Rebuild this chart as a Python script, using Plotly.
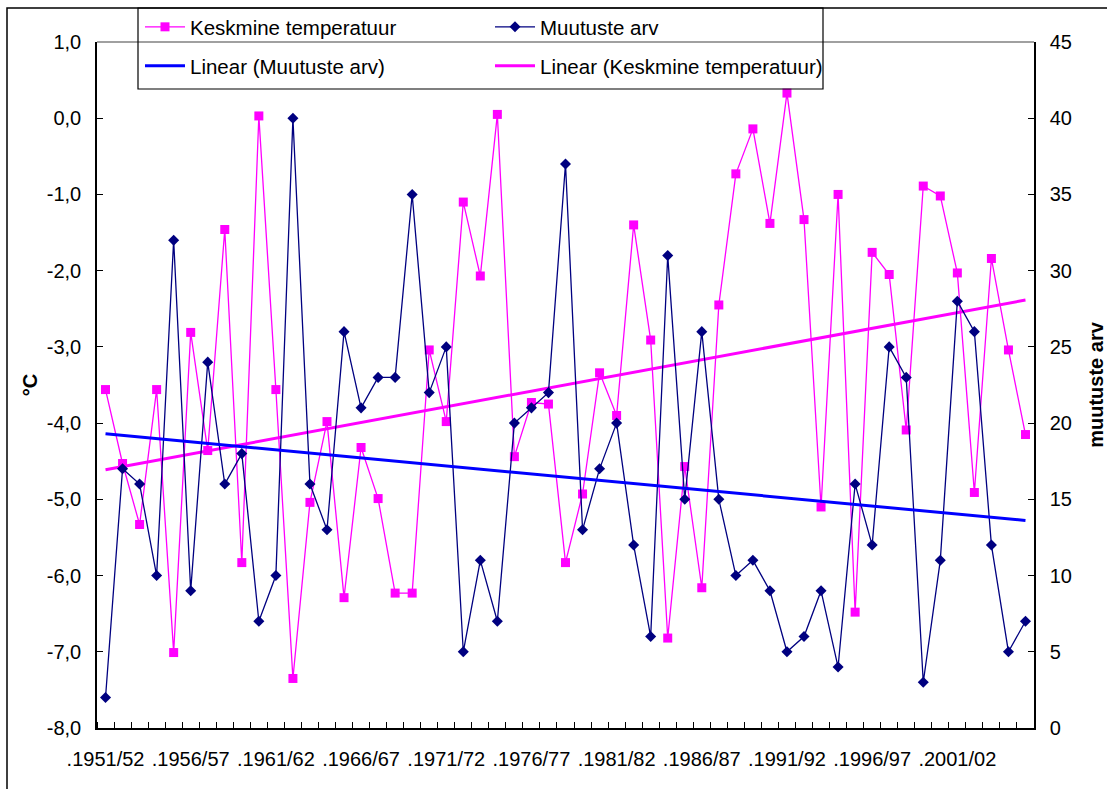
import numpy as np
import plotly.graph_objects as go

seasons = [f".{y}/{str(y + 1)[-2:]}" for y in range(1951, 2006)]
temperature = [-3.56, -4.53, -5.33, -3.56, -7.01, -2.81, -4.36, -1.46, -5.83, 0.03,
               -3.56, -7.35, -5.04, -3.98, -6.29, -4.32, -4.99, -6.23, -6.23, -3.04,
               -3.98, -1.10, -2.07, 0.05, -4.44, -3.73, -3.75, -5.83, -4.93, -3.34,
               -3.90, -1.40, -2.91, -6.82, -4.57, -6.16, -2.45, -0.73, -0.14, -1.38,
               0.33, -1.33, -5.10, -1.00, -6.48, -1.76, -2.05, -4.09, -0.89, -1.02,
               -2.03, -4.91, -1.84, -3.04, -4.15]
changes = [2, 17, 16, 10, 32, 9, 24, 16, 18, 7, 10, 40, 16, 13,
           26, 21, 23, 23, 35, 22, 25, 5, 11, 7, 20, 21, 22, 37,
           13, 17, 20, 12, 6, 31, 15, 26, 15, 10, 11, 9, 5, 6,
           9, 4, 16, 12, 25, 23, 3, 11, 28, 26, 12, 5, 7]
left_ticks = [1, 0, -1, -2, -3, -4, -5, -6, -7, -8]
left_labels = ["1,0", "0,0", "-1,0", "-2,0", "-3,0", "-4,0", "-5,0", "-6,0", "-7,0", "-8,0"]
right_ticks = [0, 5, 10, 15, 20, 25, 30, 35, 40, 45]

x = np.arange(len(seasons))
kt, bt = np.polyfit(x, temperature, 1)
kc, bc = np.polyfit(x, changes, 1)

PINK = "#FF00FF"
NAVY = "#000080"
BLUE = "#0000FF"
FONT = "Liberation Sans, Arial, sans-serif"

W, H = 1107, 789
L, R, T, B = 97, 1034, 42, 728


def px(v):
    return (v - L) / (R - L)


def py(v):
    return (B - v) / (B - T)


fig = go.Figure()
fig.add_trace(go.Scatter(x=x, y=temperature, name="Keskmine temperatuur", mode="lines+markers",
                         line=dict(color=PINK, width=1.3),
                         marker=dict(symbol="square", size=9, color=PINK),
                         legend="legend"))
fig.add_trace(go.Scatter(x=x, y=changes, name="Muutuste arv", mode="lines+markers", yaxis="y2",
                         line=dict(color=NAVY, width=1.3),
                         marker=dict(symbol="diamond", size=8.5, color=NAVY),
                         legend="legend"))
fig.add_trace(go.Scatter(x=[x[0], x[-1]], y=[bc, kc * x[-1] + bc], name="Linear (Muutuste arv)",
                         mode="lines", yaxis="y2", line=dict(color=BLUE, width=3),
                         legend="legend2"))
fig.add_trace(go.Scatter(x=[x[0], x[-1]], y=[bt, kt * x[-1] + bt], name="Linear (Keskmine temperatuur)",
                         mode="lines", line=dict(color=PINK, width=3),
                         legend="legend2"))

legend_common = dict(orientation="h", xanchor="left", yanchor="top", bgcolor="rgba(0,0,0,0)",
                     borderwidth=0, entrywidth=295, entrywidthmode="pixels",
                     font=dict(family=FONT, size=20.5, color="black"), itemwidth=40,
                     traceorder="normal")

fig.update_layout(
    width=W, height=H,
    margin=dict(l=L, r=W - R, t=T, b=H - B, autoexpand=False),
    paper_bgcolor="white", plot_bgcolor="white",
    font=dict(family=FONT, size=20, color="black"),
    showlegend=True,
    legend=dict(x=px(140), y=py(7), **legend_common),
    legend2=dict(x=px(140), y=py(46), **legend_common),
    xaxis=dict(range=[-0.5, len(seasons) - 0.5], tickmode="array", tickvals=list(x[::5]),
               ticktext=seasons[::5], ticks="", showline=True, linecolor="black", linewidth=1.5,
               showgrid=False, zeroline=False, ticklabelstandoff=12,
               tickfont=dict(family=FONT, size=20, color="black"),
               minor=dict(tickmode="array", tickvals=[i - 0.5 for i in range(len(seasons) + 1)],
                          ticks="inside", ticklen=6, tickcolor="black", tickwidth=1, showgrid=False)),
    yaxis=dict(range=[-8, 1], tickmode="array", tickvals=left_ticks, ticktext=left_labels,
               ticks="inside", ticklen=6, tickcolor="black", showline=True, linecolor="black",
               linewidth=1.5, showgrid=False, zeroline=False, ticklabelstandoff=10,
               title=dict(text="<b>°C</b>", font=dict(family=FONT, size=20), standoff=4),
               tickfont=dict(family=FONT, size=20, color="black")),
    yaxis2=dict(range=[0, 45], tickmode="array", tickvals=right_ticks, overlaying="y", side="right",
                ticks="inside", ticklen=6, tickcolor="black", showline=True, linecolor="black",
                linewidth=1.5, showgrid=False, zeroline=False, ticklabelstandoff=10,
                title=dict(text="<b>muutuste arv</b>", font=dict(family=FONT, size=20), standoff=21),
                tickfont=dict(family=FONT, size=20, color="black")),
    shapes=[
        # plot-area top border (grey)
        dict(type="line", xref="paper", yref="paper", x0=0, x1=1, y0=1, y1=1,
             line=dict(color="#808080", width=1.5)),
        # outer chart border (left and top)
        dict(type="path", xref="paper", yref="paper",
             path=f"M {px(7)},{py(800)} L {px(7)},{py(8)} L {px(1110)},{py(8)}",
             line=dict(color="black", width=1.5)),
        # legend box
        dict(type="rect", xref="paper", yref="paper", x0=px(138), x1=px(823), y0=py(89), y1=py(8),
             line=dict(color="black", width=1.2), fillcolor="rgba(0,0,0,0)"),
    ],
)

fig.write_html("out.html")
